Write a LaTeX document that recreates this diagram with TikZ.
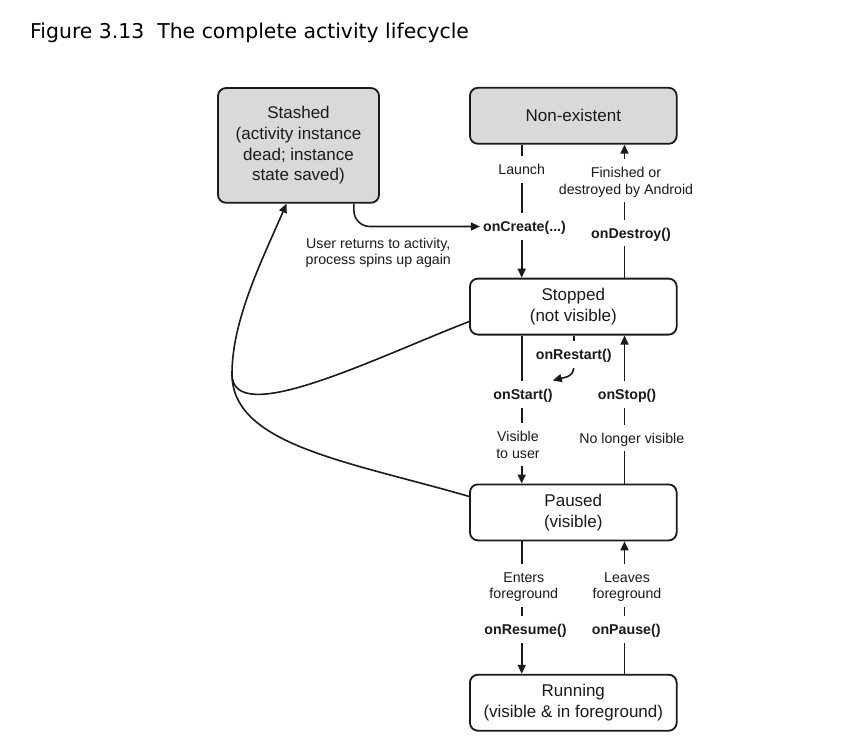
\documentclass[tikz,border=0pt]{standalone}
\usepackage{fontspec}
\setmainfont{Liberation Sans}
\newfontfamily\titlefont{DejaVu Sans}
\usetikzlibrary{positioning,arrows.meta}

\definecolor{stashgray}{RGB}{217,217,217}
\definecolor{ink}{RGB}{26,26,26}

\begin{document}
\begin{tikzpicture}[x=1pt, y=1pt, node distance=133pt, ink,
	stage/.style = {draw, rounded corners=8pt, line width=1.8pt, minimum width=206.7pt, minimum height=56pt, align=center, inner sep=0pt, font=\fontsize{17}{20.7}\selectfont},
	gone/.style = {stage, fill=stashgray},
	lbl/.style = {align=center, inner xsep=3pt, inner ysep=8pt, text depth=0pt, font=\fontsize{14.2}{16.6}\selectfont},
	call/.style = {lbl, font=\fontsize{14.2}{16.6}\selectfont\bfseries},
	link/.style = {line width=1.6pt},
	flow/.style = {link, -{Triangle[length=9pt,width=8pt]}}]
		\path[fill=white, use as bounding box] (0,0) rectangle (841,-755);
		\node[anchor=base west, inner sep=0pt, text=black, font=\titlefont\fontsize{20.4}{24}\selectfont] (title) at (30,-38.3) {Figure 3.13~~The complete activity lifecycle};
		% states
		\node[gone] (nonex) at (573.3,-115.8) {Non-existent};
		\node[stage] (stopped) [below=of nonex] {Stopped\\(not visible)};
		\node[stage] (paused) [below=148pt of stopped] {Paused\\(visible)};
		\node[stage] (running) [below=132.5pt of paused] {Running\\(visible \& in foreground)};
		\node[gone, minimum width=161pt, minimum height=114.7pt] (stashed) at (298.5,-145.4) {Stashed\\(activity instance\\dead; instance\\state saved)};
		\coordinate (lcol) at (521.7,0);
		\coordinate (rcol) at (624.5,0);
		\coordinate (bend) at (232,-374);
		% labels on the transitions
		\node[lbl] (launch) at (521.7,-169.8) {Launch};
		\node[call] (create) at (524.5,-226.5) {onCreate(...)};
		\node[lbl] (finish) at (626,-180.8) {Finished or\\destroyed by Android};
		\node[call] (destroy) at (631,-233.1) {onDestroy()};
		\node[call] (restart) at (573.7,-354.8) {onRestart()};
		\node[call] (start) at (523,-394.8) {onStart()};
		\node[call] (stop) at (627,-394.8) {onStop()};
		\node[lbl] (visible) at (518,-444.8) {Visible\\to user};
		\node[lbl] (novis) at (631.8,-438.1) {No longer visible};
		\node[lbl] (enters) at (523.8,-585.8) {Enters\\foreground};
		\node[lbl] (leaves) at (627,-585.8) {Leaves\\foreground};
		\node[call] (resume) at (525.5,-629.8) {onResume()};
		\node[call] (pause) at (626.2,-629.8) {onPause()};
		\node[lbl, inner sep=0pt] (returns) at (378.3,-251.4) {User returns to activity,\\process spins up again};
		% non-existent <-> stopped
		\draw[link] (nonex.south -| lcol) -- (launch.north -| lcol);
		\draw[link] (launch.south -| lcol) -- (create.north -| lcol);
		\draw[flow] (create.south -| lcol) -- (stopped.north -| lcol);
		\draw[link] (stopped.north -| rcol) -- (destroy.south -| rcol);
		\draw[link] (destroy.north -| rcol) -- (finish.south -| rcol);
		\draw[flow] (finish.north -| rcol) -- (nonex.south -| rcol);
		% stopped <-> paused
		\draw[link] (stopped.south -| lcol) -- (start.north -| lcol);
		\draw[link] (start.south -| lcol) -- (visible.north -| lcol);
		\draw[flow] (visible.south -| lcol) -- (paused.north -| lcol);
		\draw[link] (stopped.south -| restart) -- (restart.north);
		\draw[flow] (restart.south) to[out=-95, in=15] ([xshift=-3pt, yshift=1pt]start.north east);
		\draw[link] (paused.north -| rcol) -- (novis.south -| rcol);
		\draw[link] (novis.north -| rcol) -- (stop.south -| rcol);
		\draw[flow] (stop.north -| rcol) -- (stopped.south -| rcol);
		% paused <-> running
		\draw[link] (paused.south -| lcol) -- (enters.north -| lcol);
		\draw[link] (enters.south -| lcol) -- (resume.north -| lcol);
		\draw[flow] (resume.south -| lcol) -- (running.north -| lcol);
		\draw[link] (running.north -| rcol) -- (pause.south -| rcol);
		\draw[link] (pause.north -| rcol) -- (leaves.south -| rcol);
		\draw[flow] (leaves.north -| rcol) -- (paused.south -| rcol);
		% stashed
		\draw[flow, rounded corners=16pt] ([xshift=-26pt]stashed.south east) |- (create.west);
		\draw[link] ([yshift=16pt]paused.west) .. controls +(-121,35) and +(0,-71) .. (bend);
		\draw[flow] ([yshift=-15pt]stopped.west) .. controls +(-91,-35) and +(0,-56) .. (bend) .. controls +(0,54) and +(-24.7,-57) .. ([xshift=-12pt]stashed.south);
	\end{tikzpicture}
\end{document}
